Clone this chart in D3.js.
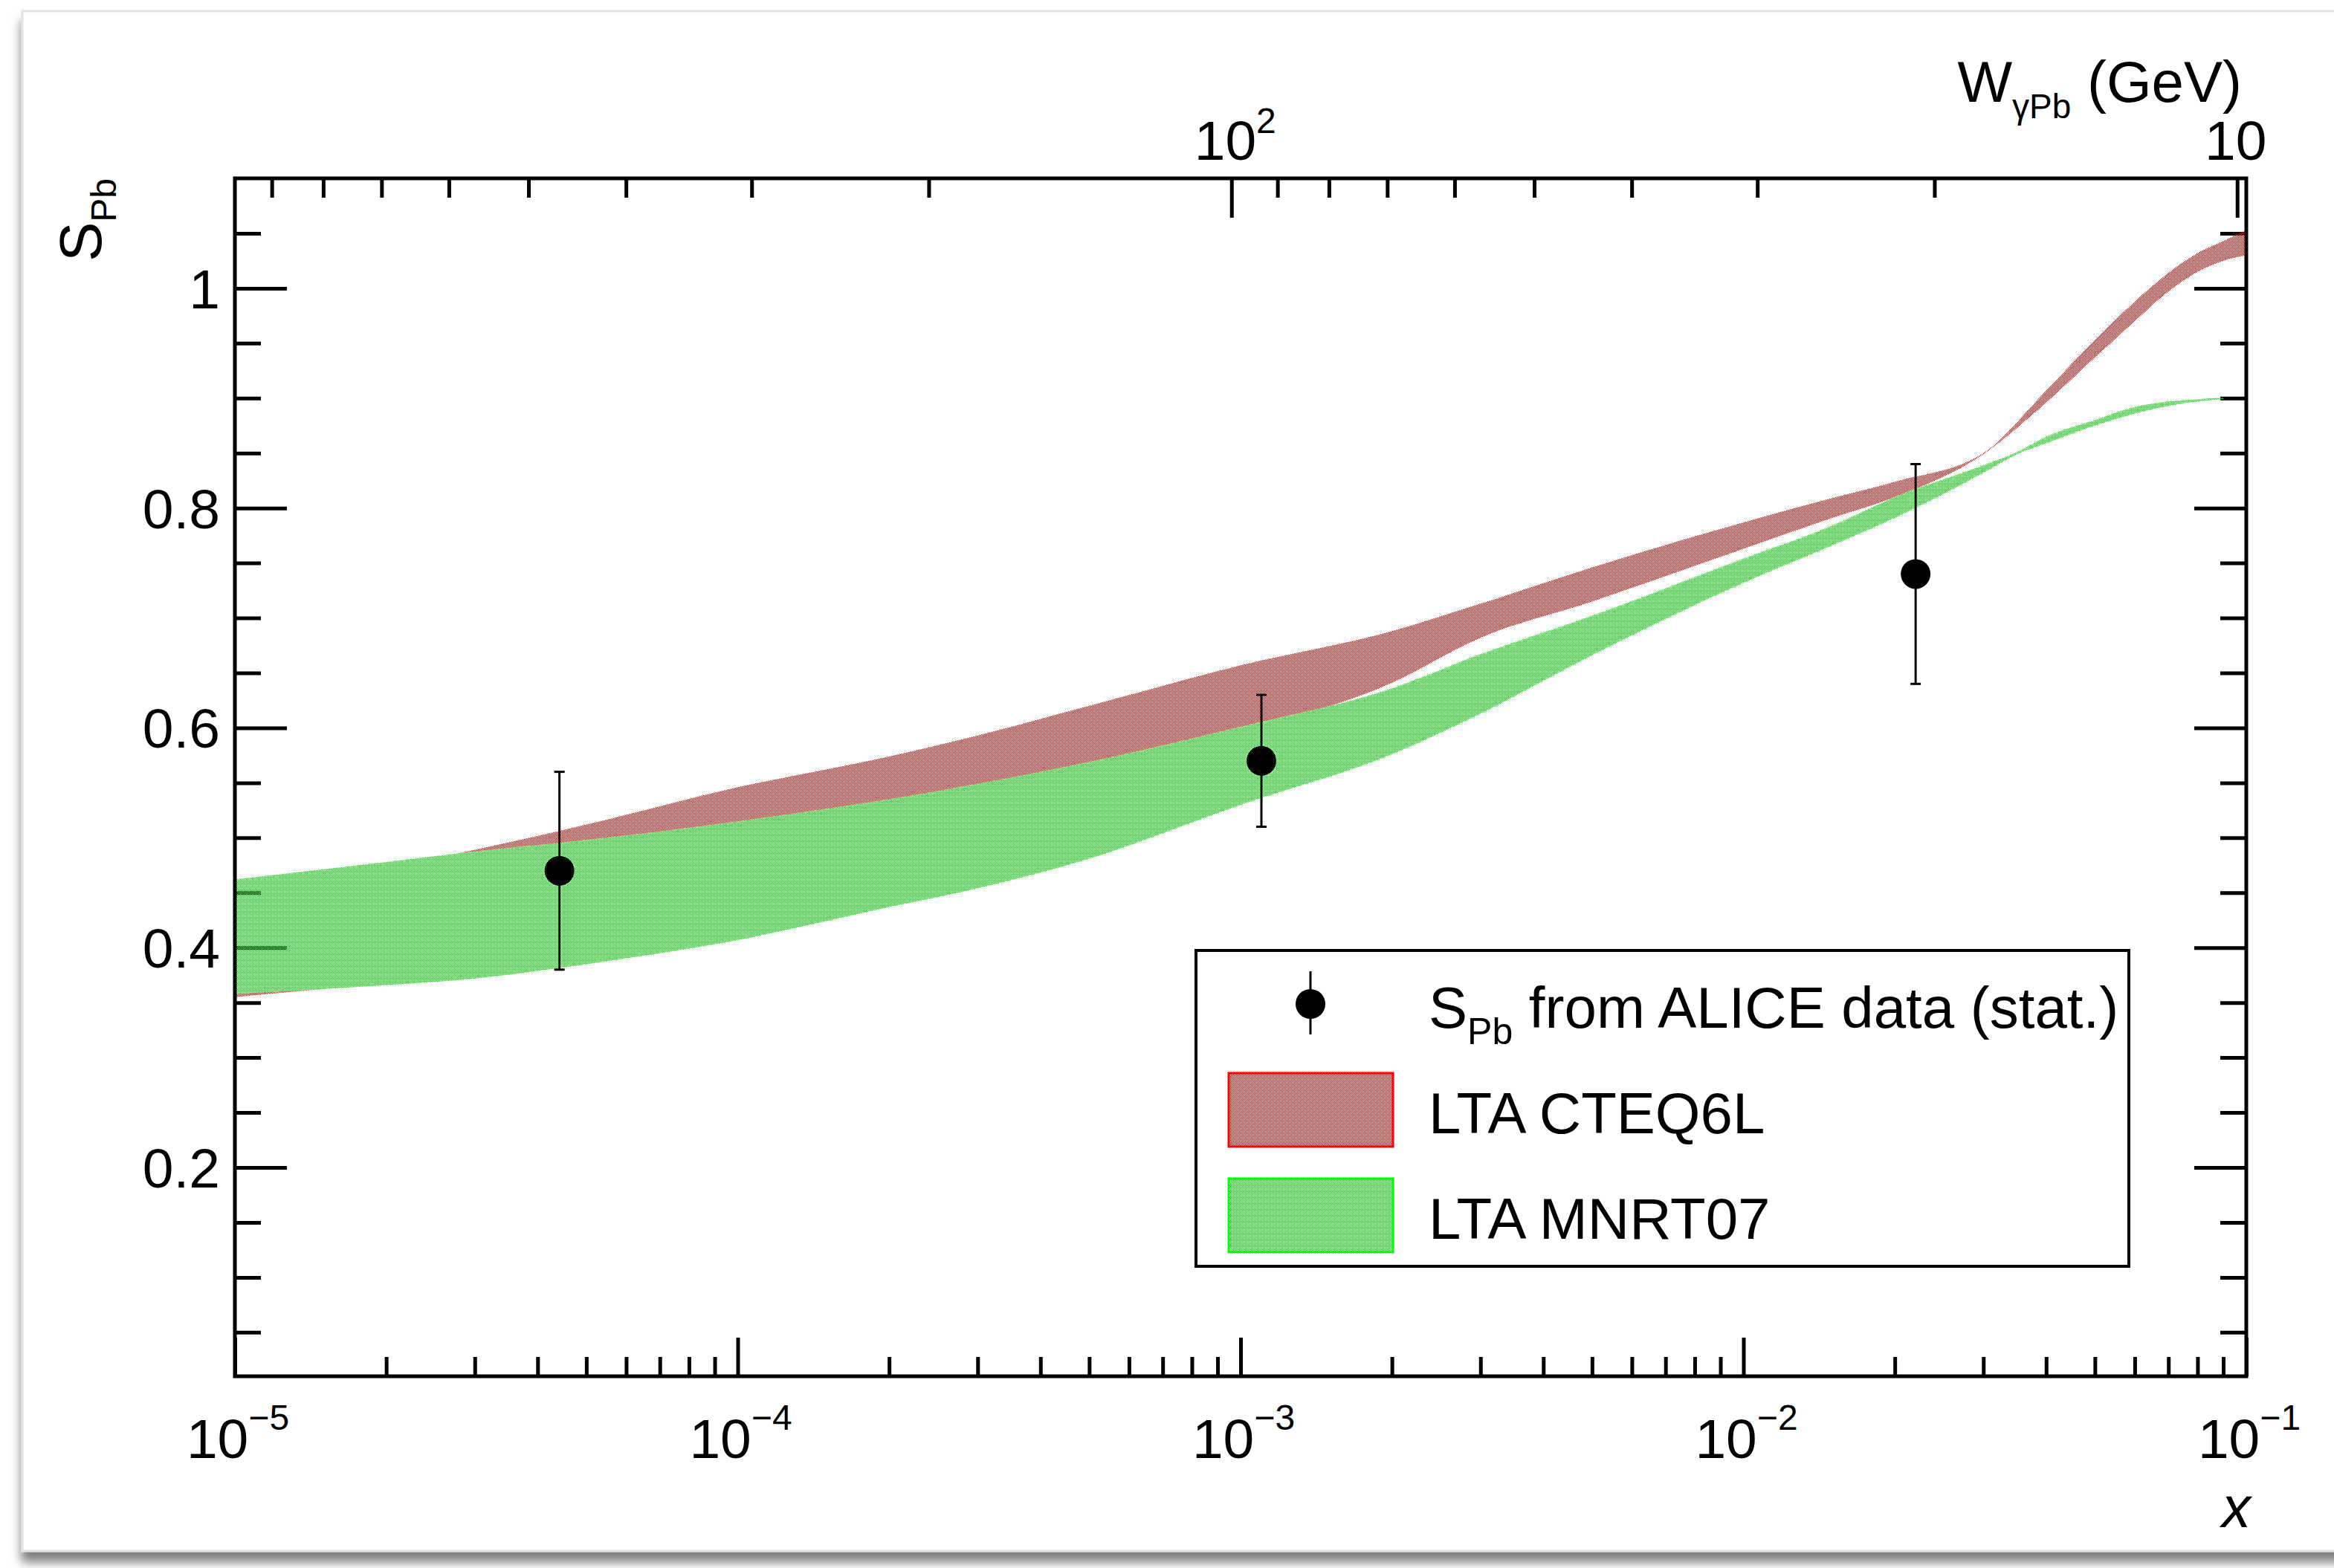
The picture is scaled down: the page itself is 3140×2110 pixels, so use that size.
<!DOCTYPE html>
<html>
<head>
<meta charset="utf-8">
<script src="https://cdn.jsdelivr.net/npm/d3@7"></script>
<style>
  body { margin: 0; background: #fff; }
  svg { display: block; font-family: "Liberation Sans", Arial, Helvetica, sans-serif; }
</style>
</head>
<body>
<div id="chart"></div>
<script>
// ---- data ----
// LTA CTEQ6L band (red)
var cteqX    = [1e-5, 2e-5, 3e-5, 5e-5, 1e-4, 2e-4, 3e-4, 5e-4, 1e-3, 2e-3, 3e-3, 5e-3, 1e-2, 1.5e-2, 2e-2, 3e-2, 4e-2, 5e-2, 6e-2, 7e-2, 8e-2, 9e-2, 0.1];
var cteqHigh = [0.447, 0.472, 0.489, 0.512, 0.546, 0.574, 0.593, 0.620, 0.657, 0.688, 0.713, 0.746, 0.787, 0.809, 0.824, 0.850, 0.907, 0.953, 0.988, 1.014, 1.032, 1.043, 1.053];
var cteqLow  = [0.355, 0.368, 0.376, 0.392, 0.420, 0.455, 0.478, 0.510, 0.590, 0.641, 0.682, 0.715, 0.763, 0.791, 0.810, 0.849, 0.896, 0.937, 0.970, 0.997, 1.015, 1.025, 1.030];

// LTA MNRT07 band (green)
var mnrtX    = [1e-5, 2e-5, 3e-5, 5e-5, 1e-4, 2e-4, 3e-4, 5e-4, 1e-3, 2e-3, 3e-3, 5e-3, 1e-2, 1.5e-2, 2e-2, 3e-2, 3.5e-2, 4e-2, 5e-2, 6e-2, 7e-2, 8e-2, 9e-2];
var mnrtHigh = [0.462, 0.478, 0.4875, 0.498, 0.515, 0.535, 0.549, 0.569, 0.601, 0.636, 0.667, 0.702, 0.754, 0.784, 0.810, 0.839, 0.851, 0.865, 0.880, 0.892, 0.897, 0.899, 0.9005];
var mnrtLow  = [0.358, 0.366, 0.372, 0.385, 0.407, 0.437, 0.454, 0.481, 0.530, 0.576, 0.613, 0.666, 0.732, 0.766, 0.791, 0.832, 0.849, 0.859, 0.875, 0.886, 0.893, 0.897, 0.899];

// S_Pb from ALICE data (stat. errors)
var aliceX   = [4.42e-5, 1.10e-3, 2.2e-2];
var aliceS   = [0.47, 0.57, 0.74];
var aliceErr = [0.09, 0.06, 0.10];

// axis labels
var xMajor   = [1e-5, 1e-4, 1e-3, 1e-2, 1e-1];
var xExpo    = ["\u22125", "\u22124", "\u22123", "\u22122", "\u22121"];
var yMajor   = [0.2, 0.4, 0.6, 0.8, 1];
var yLabels  = ["0.2", "0.4", "0.6", "0.8", "1"];
var wMajor   = [100, 10];
var wLabels  = [{base: "10", sup: "2"}, {base: "10", sup: ""}];

var legendItems = [
  {kind: "point", text: " from ALICE data (stat.)"},
  {kind: "red", text: "LTA CTEQ6L"},
  {kind: "green", text: "LTA MNRT07"}
];

// ---- layout ----
var W = 3140, H = 2110;
var box = {x0: 316, x1: 3022, y0: 240, y1: 1852};
var MJPSI = 3.097; // W = M / sqrt(x)

var svg = d3.select("#chart").append("svg")
    .attr("width", W).attr("height", H);

var defs = svg.append("defs");

// ROOT style 3001 dither
function dither(id, col) {
  var p = defs.append("pattern").attr("id", id)
      .attr("width", 2).attr("height", 2)
      .attr("patternUnits", "userSpaceOnUse");
  p.append("rect").attr("x", 0).attr("y", 0).attr("width", 1).attr("height", 1).attr("fill", col);
  p.append("rect").attr("x", 1).attr("y", 1).attr("width", 1).attr("height", 1).attr("fill", col);
}
dither("ditRed", "#ff0000");
dither("ditGreen", "#00ff00");

var shadow = defs.append("filter").attr("id", "shadow")
    .attr("x", "-5%").attr("y", "-5%").attr("width", "110%").attr("height", "115%");
shadow.append("feDropShadow").attr("dx", 0).attr("dy", 14).attr("stdDeviation", 7)
    .attr("flood-color", "#000").attr("flood-opacity", 0.5);

defs.append("clipPath").attr("id", "plotClip")
  .append("rect").attr("x", box.x0).attr("y", box.y0)
    .attr("width", box.x1 - box.x0).attr("height", box.y1 - box.y0);

// card the figure sits on
svg.append("rect")
    .attr("x", 30).attr("y", 15).attr("width", W + 20).attr("height", 2072)
    .attr("fill", "#fff").attr("stroke", "#e2e2e2").attr("stroke-width", 3)
    .attr("filter", "url(#shadow)");

// ---- scales ----
var x = d3.scaleLog().domain([1e-5, 1e-1]).range([box.x0, box.x1]);
var y = d3.scaleLinear().domain([0.01, 1.1]).range([box.y1, box.y0]);
var w = d3.scaleLog()
    .domain([MJPSI / Math.sqrt(1e-5), MJPSI / Math.sqrt(1e-1)])
    .range([box.x0, box.x1]);

var isPow10 = function(v) { return Math.abs(Math.log10(v) - Math.round(Math.log10(v))) < 1e-6; };

// ---- axes (ticks inside the frame, ROOT style) ----
var tickW = 5;
function styleAxis(g) {
  g.select(".domain").remove();
  g.selectAll(".tick line").attr("stroke", "#000").attr("stroke-width", tickW);
  g.selectAll(".tick text").remove();
}

var xMinor = x.ticks().filter(function(v) { return !isPow10(v); });
svg.append("g").attr("transform", "translate(0," + box.y1 + ")")
    .call(d3.axisBottom(x).tickValues(xMinor).tickSize(-26)).call(styleAxis);
svg.append("g").attr("transform", "translate(0," + box.y1 + ")")
    .call(d3.axisBottom(x).tickValues(xMajor).tickSize(-52)).call(styleAxis);

var wMinor = w.ticks().filter(function(v) { return !isPow10(v); });
svg.append("g").attr("transform", "translate(0," + box.y0 + ")")
    .call(d3.axisTop(w).tickValues(wMinor).tickSize(-26)).call(styleAxis);
svg.append("g").attr("transform", "translate(0," + box.y0 + ")")
    .call(d3.axisTop(w).tickValues(wMajor).tickSize(-53)).call(styleAxis);

var yMinor = y.ticks(22).filter(function(v) {
  return yMajor.every(function(m) { return Math.abs(m - v) > 1e-6; }) && v < 1.09;
});
[["L", box.x0, d3.axisLeft], ["R", box.x1, d3.axisRight]].forEach(function(s) {
  svg.append("g").attr("transform", "translate(" + s[1] + ",0)")
      .call(s[2](y).tickValues(yMinor).tickSize(-35)).call(styleAxis);
  svg.append("g").attr("transform", "translate(" + s[1] + ",0)")
      .call(s[2](y).tickValues(yMajor).tickSize(-70)).call(styleAxis);
});

// ---- bands ----
var area = d3.area()
    .x(function(d) { return x(d.x); })
    .y0(function(d) { return y(d.lo); })
    .y1(function(d) { return y(d.hi); })
    .curve(d3.curveMonotoneX);

var cteq = cteqX.map(function(v, i) { return {x: v, lo: cteqLow[i], hi: cteqHigh[i]}; });
var mnrt = mnrtX.map(function(v, i) { return {x: v, lo: mnrtLow[i], hi: mnrtHigh[i]}; });

var bands = svg.append("g").attr("clip-path", "url(#plotClip)");
bands.append("path").datum(cteq).attr("d", area).attr("fill", "url(#ditRed)");
bands.append("path").datum(mnrt).attr("d", area).attr("fill", "url(#ditGreen)");

// ---- data points ----
var pts = aliceX.map(function(v, i) { return {x: v, s: aliceS[i], e: aliceErr[i]}; });
var pg = svg.append("g").selectAll("g").data(pts).enter().append("g");
pg.append("line")
    .attr("x1", function(d) { return x(d.x); }).attr("x2", function(d) { return x(d.x); })
    .attr("y1", function(d) { return y(d.s + d.e); }).attr("y2", function(d) { return y(d.s - d.e); })
    .attr("stroke", "#000").attr("stroke-width", 3);
[1, -1].forEach(function(sg) {
  pg.append("line")
      .attr("x1", function(d) { return x(d.x) - 7; }).attr("x2", function(d) { return x(d.x) + 7; })
      .attr("y1", function(d) { return y(d.s + sg * d.e); }).attr("y2", function(d) { return y(d.s + sg * d.e); })
      .attr("stroke", "#000").attr("stroke-width", 3);
});
pg.append("circle")
    .attr("cx", function(d) { return x(d.x); }).attr("cy", function(d) { return y(d.s); })
    .attr("r", 20).attr("fill", "#000");

// ---- frame ----
svg.append("rect")
    .attr("x", box.x0).attr("y", box.y0)
    .attr("width", box.x1 - box.x0).attr("height", box.y1 - box.y0)
    .attr("fill", "none").attr("stroke", "#000").attr("stroke-width", 5);

// ---- tick labels ----
var lblSize = 75, supSize = 48;
var xl = svg.append("g").selectAll("text").data(xMajor).enter().append("text")
    .attr("x", function(d) { return x(d) + 4; }).attr("y", 1962)
    .attr("text-anchor", "middle").attr("font-size", lblSize);
xl.append("tspan").text("10");
xl.append("tspan").attr("dy", -38).attr("font-size", supSize).text(function(d, i) { return xExpo[i]; });

svg.append("g").selectAll("text").data(yMajor).enter().append("text")
    .attr("x", 296).attr("y", function(d) { return y(d) + 27; })
    .attr("text-anchor", "end").attr("font-size", lblSize)
    .text(function(d, i) { return yLabels[i]; });

var wl = svg.append("g").selectAll("text").data(wMajor).enter().append("text")
    .attr("x", function(d, i) { return w(d) + (i === 0 ? 5 : -2); }).attr("y", 215)
    .attr("text-anchor", "middle").attr("font-size", lblSize);
wl.append("tspan").text(function(d, i) { return wLabels[i].base; });
wl.append("tspan").attr("dy", -36).attr("font-size", supSize).text(function(d, i) { return wLabels[i].sup; });

// ---- axis titles ----
var wt = svg.append("text").attr("x", 3016).attr("y", 137)
    .attr("text-anchor", "end").attr("font-size", 78);
wt.append("tspan").text("W");
wt.append("tspan").attr("dy", 22).attr("font-size", 46).text("\u03b3Pb");
wt.append("tspan").attr("dy", -22).text(" (GeV)");

svg.append("text").attr("x", 3028).attr("y", 2055)
    .attr("text-anchor", "end").attr("font-size", 78).attr("font-style", "italic").text("x");

var yt = svg.append("text")
    .attr("transform", "translate(136," + box.y0 + ") rotate(-90)")
    .attr("text-anchor", "end").attr("font-size", 80);
yt.append("tspan").text("S");
yt.append("tspan").attr("dy", 20).attr("font-size", 48).text("Pb");

// ---- legend ----
var leg = {x0: 1609, y0: 1279, x1: 2864, y1: 1704, row0: 1351, rowStep: 142};
var lg = svg.append("g");
lg.append("rect")
    .attr("x", leg.x0).attr("y", leg.y0)
    .attr("width", leg.x1 - leg.x0).attr("height", leg.y1 - leg.y0)
    .attr("fill", "#fff").attr("stroke", "#000").attr("stroke-width", 4);

var rows = lg.selectAll("g.row").data(legendItems).enter().append("g")
    .attr("class", "row")
    .attr("transform", function(d, i) { return "translate(0," + (leg.row0 + i * leg.rowStep) + ")"; });

rows.each(function(d) {
  var r = d3.select(this);
  if (d.kind === "point") {
    r.append("line").attr("x1", 1763).attr("x2", 1763).attr("y1", -44).attr("y2", 41)
        .attr("stroke", "#000").attr("stroke-width", 3);
    r.append("circle").attr("cx", 1763).attr("cy", 0).attr("r", 20).attr("fill", "#000");
  } else {
    r.append("rect").attr("x", 1653).attr("y", -49).attr("width", 221).attr("height", 99)
        .attr("fill", d.kind === "red" ? "url(#ditRed)" : "url(#ditGreen)")
        .attr("stroke", d.kind === "red" ? "#ff0000" : "#00ff00").attr("stroke-width", 3);
  }
  var t = r.append("text").attr("x", 1922).attr("y", 32).attr("font-size", 78);
  if (d.kind === "point") {
    t.append("tspan").text("S");
    t.append("tspan").attr("dy", 22).attr("font-size", 50).text("Pb");
    t.append("tspan").attr("dy", -22).text(d.text);
  } else {
    t.text(d.text);
  }
});
</script>
</body>
</html>
